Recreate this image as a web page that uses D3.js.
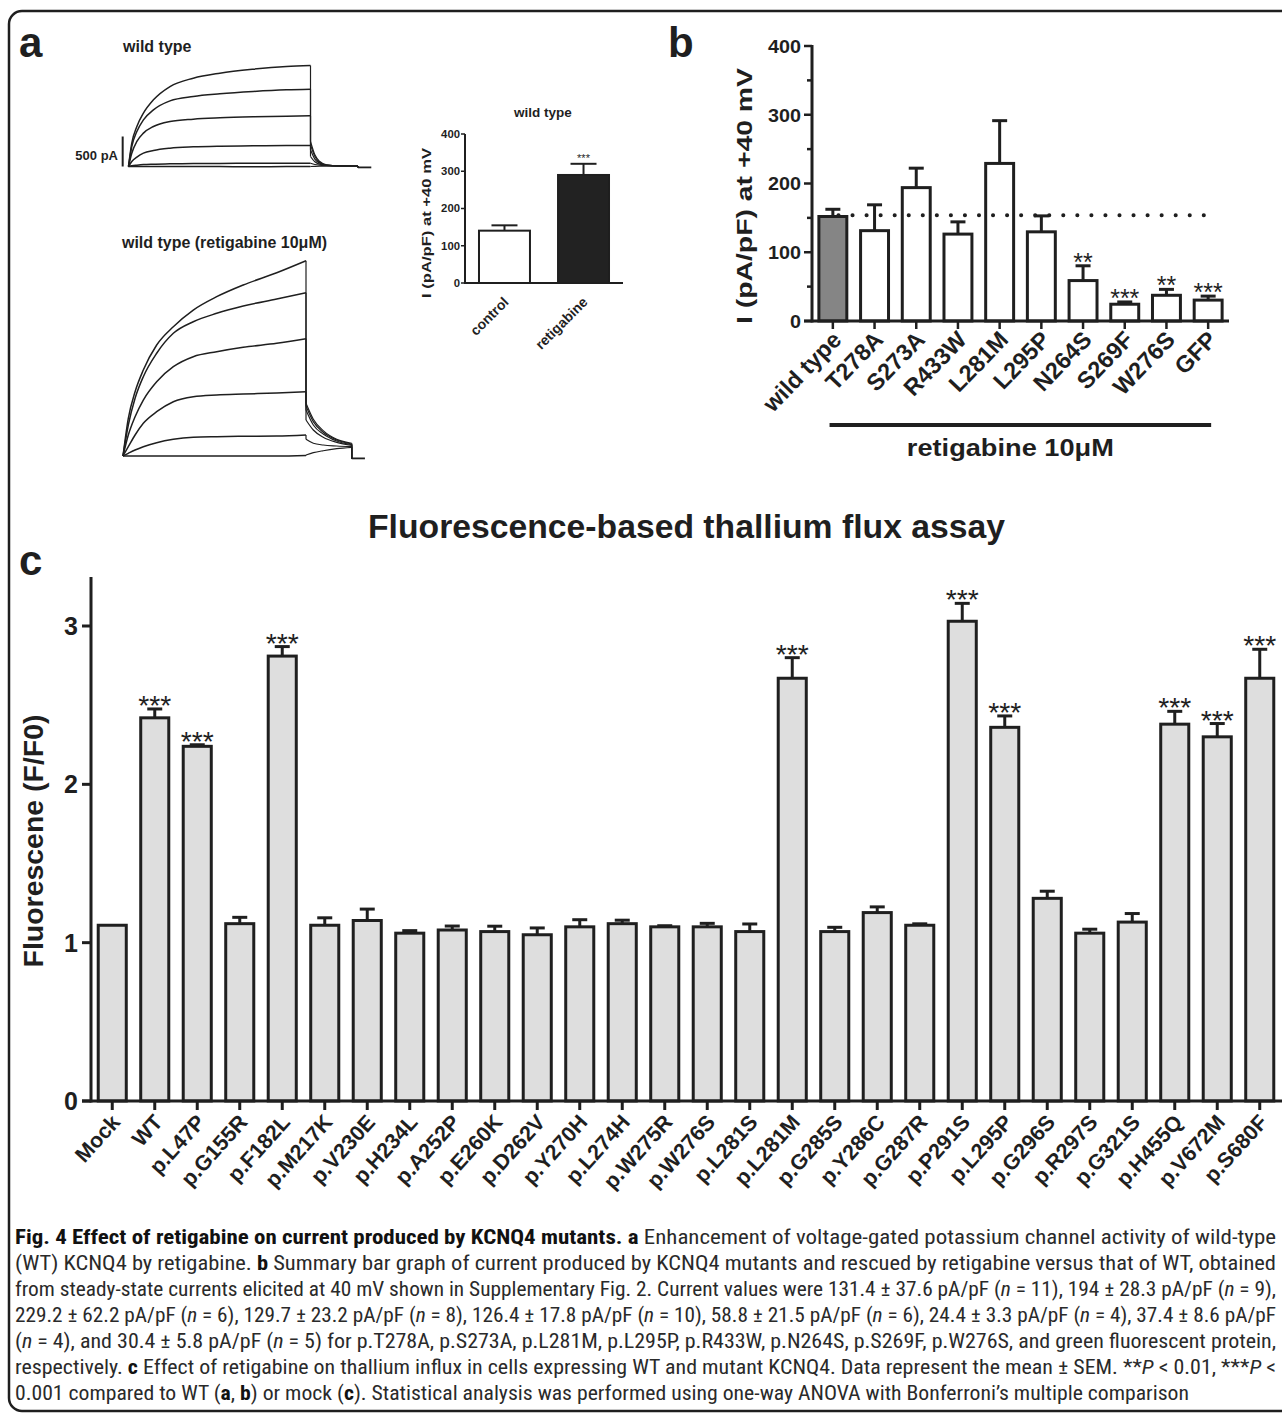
<!DOCTYPE html>
<html><head><meta charset="utf-8">
<script src="https://cdn.jsdelivr.net/npm/d3@7"></script>
<style>body{margin:0;background:#fff}svg{display:block}</style>
</head><body>
<svg id="fig" width="1282" height="1416"></svg>
<script>
// ---------------- DATA ----------------
// Panel a: current traces (time in ms, current in pA)
const ctrlPulseTime = [0, 18, 46, 82, 137, 228, 356, 502, 685, 868, 1000];
const ctrlTrace1 = [0, 389, 667, 889, 1111, 1333, 1472, 1556, 1622, 1667, 1683];
const ctrlTrace2 = [0, 333, 583, 778, 944, 1094, 1167, 1211, 1250, 1278, 1289];
const ctrlTrace3 = [0, 222, 417, 556, 667, 750, 789, 811, 828, 839, 844];
const ctrlTrace4 = [0, 83, 156, 222, 267, 306, 328, 339, 344, 350, 350];
const ctrlTrace5 = [0, 11, 22, 33, 39, 44, 50, 50, 55, 55, 55];
const ctrlTrace6 = [0, 0, 2, 2, 0, 0, 2, 0, -5, 0, 0];
const ctrlTailTime = [1000, 1024, 1051, 1088, 1161, 1261];
const ctrlTail1 = [417, 194, 83, 28, 11, 8];
const ctrlTail2 = [361, 167, 67, 22, 11, 8];
const ctrlTail3 = [278, 122, 56, 22, 11, 8];
const ctrlTail4 = [167, 78, 39, 17, 11, 8];
const ctrlTail5 = [55, 33, 22, 17, 11, 8];
const ctrlTail6 = [0, 3, 5, 6, 8, 8];
const ctrlEndTime = [1261, 1334];
const ctrlEndLevel = [-15, -15];

const retPulseTime = [0, 29, 66, 111, 184, 275, 384, 512, 657, 840, 1000];
const retTrace1 = [0, 628, 1072, 1433, 1850, 2155, 2433, 2655, 2850, 3055, 3255];
const retTrace2 = [0, 517, 962, 1322, 1712, 2045, 2238, 2378, 2500, 2617, 2722];
const retTrace3 = [0, 350, 655, 933, 1238, 1488, 1655, 1738, 1812, 1878, 1955];
const retTrace4 = [0, 155, 350, 545, 738, 905, 988, 1017, 1033, 1050, 1072];
const retTrace5 = [0, 45, 100, 155, 222, 278, 312, 322, 328, 333, 350];
const retTrace6 = [0, 0, 0, 0, 0, 0, 0, 0, 0, 0, 10];
const retTailTime = [1000, 1040, 1094, 1168, 1250];
const retTail1 = [878, 612, 422, 278, 212];
const retTail2 = [833, 572, 395, 267, 200];
const retTail3 = [767, 517, 367, 250, 188];
const retTail4 = [600, 433, 312, 228, 178];
const retTail5 = [278, 212, 183, 167, 155];
const retTail6 = [17, 55, 88, 122, 145];
const retEndTime = [1250, 1322];
const retEndLevel = [-40, -40];
const scaleBarPA = 500;

// Panel a inset
const insetCategories = ["control", "retigabine"];
const insetMeans = [140.5, 290];
const insetSems = [14.3, 30];
const insetStars = ["", "***"];
const insetTicks = [0, 100, 200, 300, 400];

// Panel b
const bCategories = ["wild type", "T278A", "S273A", "R433W", "L281M", "L295P", "N264S", "S269F", "W276S", "GFP"];
const bMeans = [152, 131.4, 194, 126.4, 229.2, 129.7, 58.8, 24.4, 37.4, 30.4];
const bSems = [10.5, 37.6, 28.3, 17.8, 62.2, 23.2, 21.5, 3.3, 8.6, 5.8];
const bStars = ["", "", "", "", "", "", "**", "***", "**", "***"];
const bTicks = [0, 100, 200, 300, 400];
const bMinorTicks = [50, 150, 250, 350];
const bReference = 154;

// Panel c
const cCategories = ["Mock", "WT", "p.L47P", "p.G155R", "p.F182L", "p.M217K", "p.V230E", "p.H234L", "p.A252P", "p.E260K", "p.D262V", "p.Y270H", "p.L274H", "p.W275R", "p.W276S", "p.L281S", "p.L281M", "p.G285S", "p.Y286C", "p.G287R", "p.P291S", "p.L295P", "p.G296S", "p.R297S", "p.G321S", "p.H455Q", "p.V672M", "p.S680F"];
const cMeans = [1.11, 2.42, 2.24, 1.12, 2.81, 1.11, 1.14, 1.06, 1.08, 1.07, 1.05, 1.10, 1.12, 1.10, 1.10, 1.07, 2.67, 1.07, 1.19, 1.11, 3.03, 2.36, 1.28, 1.06, 1.13, 2.38, 2.30, 2.67];
const cSems = [0.0, 0.056, 0.01, 0.04, 0.06, 0.047, 0.072, 0.016, 0.025, 0.034, 0.043, 0.045, 0.022, 0.007, 0.022, 0.048, 0.13, 0.027, 0.036, 0.009, 0.113, 0.072, 0.045, 0.025, 0.054, 0.081, 0.084, 0.183];
const cStars = ["", "***", "***", "", "***", "", "", "", "", "", "", "", "", "", "", "", "***", "", "", "", "***", "***", "", "", "", "***", "***", "***"];
const cTicks = [0, 1, 2, 3];

// Caption
const captionLines = [
  [["Fig. 4 Effect of retigabine on current produced by KCNQ4 mutants. a", "b"], [" Enhancement of voltage-gated potassium channel activity of wild-type", ""]],
  [["(WT) KCNQ4 by retigabine. ", ""], ["b", "b"], [" Summary bar graph of current produced by KCNQ4 mutants and rescued by retigabine versus that of WT, obtained", ""]],
  [["from steady-state currents elicited at 40 mV shown in Supplementary Fig. 2. Current values were 131.4 ± 37.6 pA/pF (", ""], ["n", "i"], [" = 11), 194 ± 28.3 pA/pF (", ""], ["n", "i"], [" = 9),", ""]],
  [["229.2 ± 62.2 pA/pF (", ""], ["n", "i"], [" = 6), 129.7 ± 23.2 pA/pF (", ""], ["n", "i"], [" = 8), 126.4 ± 17.8 pA/pF (", ""], ["n", "i"], [" = 10), 58.8 ± 21.5 pA/pF (", ""], ["n", "i"], [" = 6), 24.4 ± 3.3 pA/pF (", ""], ["n", "i"], [" = 4), 37.4 ± 8.6 pA/pF", ""]],
  [["(", ""], ["n", "i"], [" = 4), and 30.4 ± 5.8 pA/pF (", ""], ["n", "i"], [" = 5) for p.T278A, p.S273A, p.L281M, p.L295P, p.R433W, p.N264S, p.S269F, p.W276S, and green fluorescent protein,", ""]],
  [["respectively. ", ""], ["c", "b"], [" Effect of retigabine on thallium influx in cells expressing WT and mutant KCNQ4. Data represent the mean ± SEM. **", ""], ["P", "i"], [" < 0.01, ***", ""], ["P", "i"], [" <", ""]],
  [["0.001 compared to WT (", ""], ["a", "b"], [", ", ""], ["b", "b"], [") or mock (", ""], ["c", "b"], ["). Statistical analysis was performed using one-way ANOVA with Bonferroni’s multiple comparison", ""]]
];

// ---------------- DRAWING ----------------
const svg = d3.select("#fig");
const INK = "#1f1f1f";
const FONT = "Arial, 'Liberation Sans', Helvetica, sans-serif";
svg.append("rect").attr("width", 1282).attr("height", 1416).attr("fill", "#fff");

// outer frame
svg.append("path")
  .attr("d", "M1290,11 H22 A13,13 0 0 0 9,24 V1398 A13,13 0 0 0 22,1411 H1290")
  .attr("fill", "none").attr("stroke", INK).attr("stroke-width", 2.5);

function label(g, x, y, txt, size, opts = {}) {
  const t = g.append("text").attr("x", x).attr("y", y).text(txt)
    .attr("font-family", FONT).attr("font-size", size)
    .attr("font-weight", opts.weight || "bold").attr("fill", opts.fill || INK)
    .attr("text-anchor", opts.anchor || "start");
  if (opts.len) t.attr("textLength", opts.len).attr("lengthAdjust", "spacingAndGlyphs");
  if (opts.rotate !== undefined) t.attr("transform", `rotate(${opts.rotate},${x},${y})`);
  return t;
}

// panel letters
label(svg, 19, 57, "a", 42);
label(svg, 668, 57, "b", 42);
label(svg, 19, 575, "c", 42);

// ---------- Panel a traces ----------
function drawTraces(g, xs, ys, pulseT, traces, tailT, tails, endT, endL) {
  const line = d3.line().x(d => xs(d[0])).y(d => ys(d[1])).curve(d3.curveMonotoneX);
  const straight = d3.line().x(d => xs(d[0])).y(d => ys(d[1]));
  traces.forEach((tr, i) => {
    g.append("path").attr("d", line(pulseT.map((t, j) => [t, tr[j]])))
      .attr("fill", "none").attr("stroke", INK).attr("stroke-width", 1.5);
    g.append("path").attr("d", straight([[pulseT[pulseT.length - 1], tr[tr.length - 1]], [tailT[0], tails[i][0]]]))
      .attr("fill", "none").attr("stroke", INK).attr("stroke-width", 1.2);
    g.append("path").attr("d", line(tailT.map((t, j) => [t, tails[i][j]])))
      .attr("fill", "none").attr("stroke", INK).attr("stroke-width", 1.2);
    g.append("path").attr("d", straight([[tailT[tailT.length - 1], tails[i][tails[i].length - 1]], [endT[0], endL[0]]]))
      .attr("fill", "none").attr("stroke", INK).attr("stroke-width", 1.2);
  });
  g.append("path").attr("d", straight(endT.map((t, j) => [t, endL[j]])))
    .attr("fill", "none").attr("stroke", INK).attr("stroke-width", 1.8);
}
const gA = svg.append("g");
label(gA, 123, 52, "wild type", 16);
const xCtrl = d3.scaleLinear().domain([0, 1000]).range([128.5, 310.5]);
const yCtrl = d3.scaleLinear().domain([0, 500]).range([166.5, 136.5]);
drawTraces(gA, xCtrl, yCtrl, ctrlPulseTime,
  [ctrlTrace1, ctrlTrace2, ctrlTrace3, ctrlTrace4, ctrlTrace5, ctrlTrace6],
  ctrlTailTime, [ctrlTail1, ctrlTail2, ctrlTail3, ctrlTail4, ctrlTail5, ctrlTail6],
  ctrlEndTime, ctrlEndLevel);
// scale bar
gA.append("line").attr("x1", xCtrl(-32)).attr("x2", xCtrl(-32))
  .attr("y1", yCtrl(0)).attr("y2", yCtrl(scaleBarPA)).attr("stroke", INK).attr("stroke-width", 2);
label(gA, 118, 160, scaleBarPA + " pA", 13, { anchor: "end" });

label(gA, 122, 248, "wild type (retigabine 10μM)", 16, { len: 205 });
const xRet = d3.scaleLinear().domain([0, 1000]).range([123, 306]);
const yRet = d3.scaleLinear().domain([0, 500]).range([456, 426]);
drawTraces(gA, xRet, yRet, retPulseTime,
  [retTrace1, retTrace2, retTrace3, retTrace4, retTrace5, retTrace6],
  retTailTime, [retTail1, retTail2, retTail3, retTail4, retTail5, retTail6],
  retEndTime, retEndLevel);

// ---------- Panel a inset ----------
const gI = svg.append("g");
const xI = d3.scaleBand().domain(insetCategories).range([465, 623]).paddingInner(0.355).paddingOuter(0.177);
const yI = d3.scaleLinear().domain([0, 400]).range([283, 134]);
label(gI, 543, 117, "wild type", 13.5, { anchor: "middle" });
gI.selectAll("rect.bar").data(insetCategories).join("rect")
  .attr("x", d => xI(d)).attr("width", xI.bandwidth())
  .attr("y", (d, i) => yI(insetMeans[i])).attr("height", (d, i) => yI(0) - yI(insetMeans[i]))
  .attr("fill", (d, i) => i === 0 ? "#fff" : "#222").attr("stroke", INK).attr("stroke-width", 2);
insetCategories.forEach((c, i) => {
  const cx = xI(c) + xI.bandwidth() / 2;
  const top = yI(insetMeans[i] + insetSems[i]);
  gI.append("line").attr("x1", cx).attr("x2", cx).attr("y1", yI(insetMeans[i])).attr("y2", top).attr("stroke", INK).attr("stroke-width", 2);
  gI.append("line").attr("x1", cx - 13).attr("x2", cx + 13).attr("y1", top).attr("y2", top).attr("stroke", INK).attr("stroke-width", 2);
  if (insetStars[i]) label(gI, cx, top - 2, insetStars[i], 11, { anchor: "middle", weight: "normal" });
  label(gI, cx + 5, 303, c, 14, { anchor: "end", rotate: -45 });
});
gI.append("line").attr("x1", 465).attr("x2", 465).attr("y1", yI(0)).attr("y2", yI(400)).attr("stroke", INK).attr("stroke-width", 2);
gI.append("line").attr("x1", 464).attr("x2", 623).attr("y1", yI(0)).attr("y2", yI(0)).attr("stroke", INK).attr("stroke-width", 2);
insetTicks.forEach(t => {
  gI.append("line").attr("x1", 461).attr("x2", 465).attr("y1", yI(t)).attr("y2", yI(t)).attr("stroke", INK).attr("stroke-width", 1.5);
  label(gI, 460, yI(t) + 3.8, String(t), 10.5, { anchor: "end", len: String(t).length * 6.3 });
});
label(gI, 431, 223, "I (pA/pF) at +40 mV", 13, { anchor: "middle", rotate: -90, len: 150 });

// ---------- Panel b ----------
const gB = svg.append("g");
const xB = d3.scaleBand().domain(bCategories).range([812, 1229]).paddingInner(0.33).paddingOuter(0.165);
const yB = d3.scaleLinear().domain([0, 400]).range([321, 46]);
const bw = xB.bandwidth();
gB.selectAll("rect.bar").data(bCategories).join("rect")
  .attr("x", d => xB(d)).attr("width", bw)
  .attr("y", (d, i) => yB(bMeans[i])).attr("height", (d, i) => yB(0) - yB(bMeans[i]))
  .attr("fill", (d, i) => i === 0 ? "#858585" : "#fff").attr("stroke", INK).attr("stroke-width", 3);
bCategories.forEach((c, i) => {
  const cx = xB(c) + bw / 2;
  const top = yB(bMeans[i] + bSems[i]);
  gB.append("line").attr("x1", cx).attr("x2", cx).attr("y1", yB(bMeans[i])).attr("y2", top).attr("stroke", INK).attr("stroke-width", 3);
  gB.append("line").attr("x1", cx - 7.5).attr("x2", cx + 7.5).attr("y1", top).attr("y2", top).attr("stroke", INK).attr("stroke-width", 3);
  if (bStars[i]) label(gB, cx, top + 5, bStars[i], 25, { anchor: "middle", weight: "normal" });
  gB.append("line").attr("x1", cx).attr("x2", cx).attr("y1", yB(0)).attr("y2", yB(0) + 8).attr("stroke", INK).attr("stroke-width", 2.5);
  label(gB, cx + 10, 341, c, 23.5, { anchor: "end", rotate: -46 });
});
// reference dotted line
gB.append("line")
  .attr("x1", xB(bCategories[0]) + bw * 0.7).attr("x2", xB(bCategories[bCategories.length - 1]) + bw * 0.8)
  .attr("y1", yB(bReference)).attr("y2", yB(bReference))
  .attr("stroke", INK).attr("stroke-width", 4).attr("stroke-linecap", "round").attr("stroke-dasharray", "0.1,13.95");
// axes
gB.append("line").attr("x1", 812).attr("x2", 812).attr("y1", yB(0) + 1.5).attr("y2", yB(400) - 1).attr("stroke", INK).attr("stroke-width", 3);
gB.append("line").attr("x1", 804).attr("x2", 1229).attr("y1", yB(0)).attr("y2", yB(0)).attr("stroke", INK).attr("stroke-width", 3);
bTicks.forEach(t => {
  gB.append("line").attr("x1", 804).attr("x2", 812).attr("y1", yB(t)).attr("y2", yB(t)).attr("stroke", INK).attr("stroke-width", 2.5);
  label(gB, 801, yB(t) + 6.8, String(t), 19, { anchor: "end", len: String(t).length * 11 });
});
bMinorTicks.forEach(t => {
  gB.append("line").attr("x1", 807).attr("x2", 812).attr("y1", yB(t)).attr("y2", yB(t)).attr("stroke", INK).attr("stroke-width", 2.5);
});
label(gB, 752, 196, "I (pA/pF) at +40 mV", 22, { anchor: "middle", rotate: -90, len: 256 });
// retigabine bracket
const brX1 = xB(bCategories[1]) + bw / 2 - 45;
const brX2 = xB(bCategories[bCategories.length - 1]) + bw / 2 + 3;
gB.append("line").attr("x1", brX1).attr("x2", brX2).attr("y1", 425).attr("y2", 425).attr("stroke", INK).attr("stroke-width", 4);
label(gB, (brX1 + brX2) / 2 - 10, 456, "retigabine 10μM", 23, { anchor: "middle", len: 207 });

// ---------- Panel c ----------
const gC = svg.append("g");
label(gC, 368, 538, "Fluorescence-based thallium flux assay", 34, { len: 637 });
const xC = d3.scaleBand().domain(cCategories).range([91, 1281]).paddingInner(0.34).paddingOuter(0.17);
const yC = d3.scaleLinear().domain([0, 3]).range([1101, 626]);
const cw = xC.bandwidth();
gC.selectAll("rect.bar").data(cCategories).join("rect")
  .attr("x", d => xC(d)).attr("width", cw)
  .attr("y", (d, i) => yC(cMeans[i])).attr("height", (d, i) => yC(0) - yC(cMeans[i]))
  .attr("fill", "#dedede").attr("stroke", INK).attr("stroke-width", 3);
cCategories.forEach((c, i) => {
  const cx = xC(c) + cw / 2;
  const top = yC(cMeans[i] + cSems[i]);
  if (cSems[i] > 0) {
    gC.append("line").attr("x1", cx).attr("x2", cx).attr("y1", yC(cMeans[i])).attr("y2", top).attr("stroke", INK).attr("stroke-width", 3);
    gC.append("line").attr("x1", cx - 7.5).attr("x2", cx + 7.5).attr("y1", top).attr("y2", top).attr("stroke", INK).attr("stroke-width", 3);
  }
  if (cStars[i]) label(gC, cx, top + 6, cStars[i], 27, { anchor: "middle", weight: "normal", len: 33 });
  gC.append("line").attr("x1", cx).attr("x2", cx).attr("y1", yC(0)).attr("y2", yC(0) + 9).attr("stroke", INK).attr("stroke-width", 3);
  label(gC, cx + 9, 1123, c, 21.5, { anchor: "end", rotate: -48 });
});
gC.append("line").attr("x1", 91).attr("x2", 91).attr("y1", yC(0) + 1.5).attr("y2", yC(3.31)).attr("stroke", INK).attr("stroke-width", 3);
gC.append("line").attr("x1", 82).attr("x2", 1282).attr("y1", yC(0)).attr("y2", yC(0)).attr("stroke", INK).attr("stroke-width", 3);
cTicks.forEach(t => {
  gC.append("line").attr("x1", 82).attr("x2", 91).attr("y1", yC(t)).attr("y2", yC(t)).attr("stroke", INK).attr("stroke-width", 3);
  label(gC, 78, yC(t) + 9, String(t), 25, { anchor: "end" });
});
label(gC, 43, 841, "Fluorescene (F/F0)", 27, { anchor: "middle", rotate: -90, len: 253 });

// ---------- Caption ----------
const gT = svg.append("g");
const CAPFONT = "'Liberation Sans Narrow', 'Roboto Condensed', 'Open Sans', Roboto, sans-serif";
captionLines.forEach((segs, li) => {
  const y = 1244 + li * 26;
  const t = gT.append("text").attr("x", 15).attr("y", y)
    .attr("font-family", CAPFONT).attr("font-size", 19.5).attr("fill", "#2a2a2a")
    .attr("textLength", li === captionLines.length - 1 ? 1174 : 1261)
    .attr("lengthAdjust", "spacingAndGlyphs");
  segs.forEach(([txt, st]) => {
    const s = t.append("tspan").text(txt);
    if (st === "b") s.attr("font-weight", "bold").attr("fill", "#111");
    if (st === "i") s.attr("font-style", "italic");
  });
});
</script>
</body></html>
